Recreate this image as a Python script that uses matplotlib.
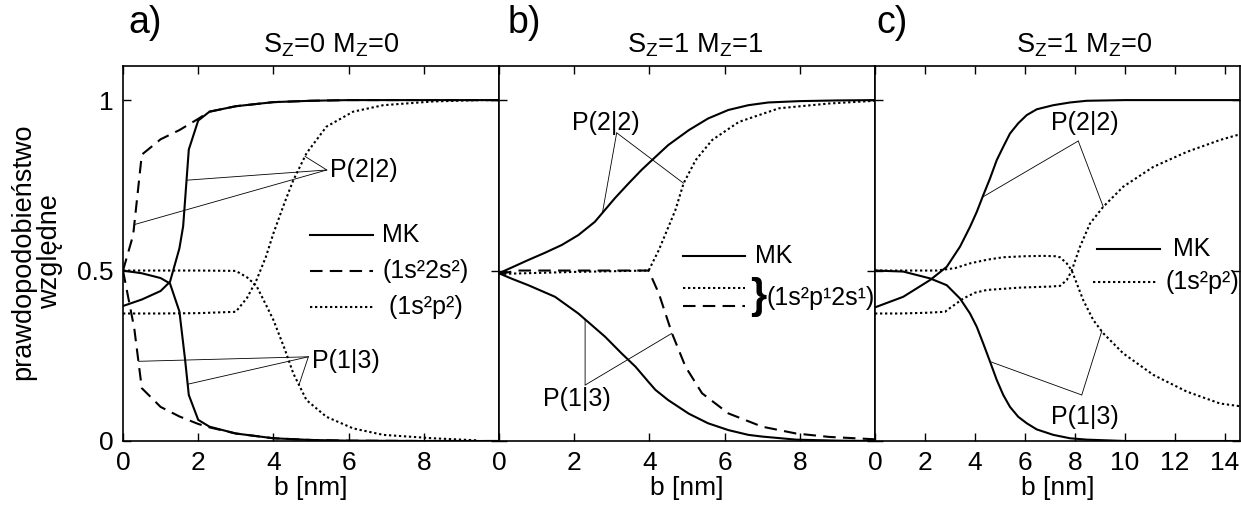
import numpy as np
import matplotlib
matplotlib.use('Agg')
import matplotlib.pyplot as plt

plt.rcParams['font.family'] = ['Liberation Sans', 'DejaVu Sans']
plt.rcParams['mathtext.fontset'] = 'custom'
plt.rcParams['mathtext.rm'] = 'Liberation Sans'

# ---- panel a) Sz=0 Mz=0 ----
a_mk_up_x = [0, 0.5, 1.0, 1.25, 1.5, 1.6, 1.75, 2.0, 2.3, 3.0, 4.0, 5.0, 6.0, 8.0, 10.0]
a_mk_up_y = [0.396, 0.415, 0.44, 0.467, 0.565, 0.63, 0.855, 0.94, 0.966, 0.982, 0.994, 0.998, 1.0, 1.0, 1.0]
a_mk_lo_x = [0, 0.5, 1.0, 1.25, 1.5, 1.65, 1.75, 2.0, 2.3, 3.0, 4.0, 5.0, 6.0, 8.0, 10.0]
a_mk_lo_y = [0.5, 0.492, 0.478, 0.462, 0.38, 0.24, 0.135, 0.062, 0.042, 0.022, 0.008, 0.003, 0.001, 0.0, 0.0]
a_ss_up_x = [0, 0.27, 0.5, 1.0, 1.5, 2.0, 2.3, 3.0, 4.0, 5.0, 6.0, 8.0, 10.0]
a_ss_up_y = [0.5, 0.604, 0.84, 0.885, 0.912, 0.945, 0.966, 0.982, 0.994, 0.998, 1.0, 1.0, 1.0]
a_ss_lo_x = [0, 0.3, 0.5, 1.0, 1.5, 2.0, 2.3, 3.0, 4.0, 5.0, 6.0, 8.0, 10.0]
a_ss_lo_y = [0.5, 0.33, 0.155, 0.1, 0.072, 0.05, 0.04, 0.022, 0.008, 0.003, 0.001, 0.0, 0.0]
a_pp_up_x = [0, 1, 2, 3.0, 3.3, 3.55, 3.8, 4.0, 4.3, 4.53, 4.88, 5.41, 6.12, 6.92, 8.25, 9.5, 10]
a_pp_up_y = [0.374, 0.374, 0.375, 0.379, 0.42, 0.472, 0.54, 0.609, 0.7, 0.765, 0.844, 0.922, 0.966, 0.985, 0.996, 1.0, 1.0]
a_pp_lo_x = [0, 1, 2, 3.0, 3.3, 3.55, 3.8, 4.0, 4.3, 4.53, 4.88, 5.41, 6.12, 6.92, 8.25, 9.4]
a_pp_lo_y = [0.5, 0.5, 0.5, 0.499, 0.48, 0.455, 0.4, 0.355, 0.27, 0.198, 0.12, 0.071, 0.037, 0.018, 0.008, 0.002]

# ---- panel b) Sz=1 Mz=1 ----
b_mk_up_x = [0, 0.34, 0.78, 1.22, 1.67, 2.11, 2.55, 3.08, 3.45, 3.79, 4.07, 4.5, 5.05, 5.56, 6.1, 6.63, 7.16, 8.0, 9.0, 10]
b_mk_up_y = [0.492, 0.509, 0.531, 0.552, 0.575, 0.604, 0.643, 0.712, 0.756, 0.795, 0.824, 0.868, 0.912, 0.946, 0.971, 0.985, 0.993, 0.997, 0.999, 1.0]
b_mk_lo_x = [0, 0.34, 0.78, 1.49, 2.11, 2.82, 3.26, 3.63, 3.97, 4.16, 4.5, 5.05, 5.56, 6.1, 6.63, 7.0, 7.9, 9, 10]
b_mk_lo_y = [0.492, 0.476, 0.457, 0.423, 0.374, 0.306, 0.257, 0.218, 0.174, 0.15, 0.12, 0.08, 0.052, 0.032, 0.018, 0.013, 0.004, 0.001, 0.0]
b_dot_x = [0, 1, 2, 3, 3.98, 4.25, 4.69, 4.91, 5.23, 5.67, 6.38, 7.45, 8.78, 10]
b_dot_y = [0.49, 0.493, 0.496, 0.498, 0.5, 0.56, 0.677, 0.756, 0.824, 0.883, 0.936, 0.976, 0.99, 0.998]
b_dash_x = [0, 0.5, 1, 2, 3, 3.98, 4.25, 4.6, 4.96, 5.4, 6.1, 7.0, 7.9, 8.78, 10]
b_dash_y = [0.49, 0.5, 0.5, 0.5, 0.5, 0.5, 0.433, 0.316, 0.218, 0.14, 0.081, 0.042, 0.022, 0.012, 0.005]

# ---- panel c) Sz=1 Mz=0 ----
c_mk_x = [0, 1.13, 2.2, 2.87, 3.4, 3.8, 4.07, 4.33, 4.6, 4.87, 5.13, 5.4, 5.73, 6.07, 6.47, 7.13, 7.8, 8.47, 10, 12, 14.6]
c_mk_up_y = [0.392, 0.423, 0.472, 0.511, 0.57, 0.628, 0.672, 0.721, 0.77, 0.824, 0.863, 0.902, 0.932, 0.956, 0.973, 0.985, 0.993, 0.998, 1.0, 1.0, 1.0]
c_mk_lo_y = [0.5, 0.497, 0.477, 0.457, 0.418, 0.374, 0.335, 0.286, 0.233, 0.179, 0.135, 0.1, 0.071, 0.052, 0.034, 0.018, 0.008, 0.004, 0.0, 0.0, 0.0]
c_pp1_x = [0, 1, 2.47, 3.2, 3.8, 4.5, 5.13, 6.0, 6.73, 7.2, 7.4, 7.67, 7.87, 8.33, 8.73, 9.13, 9.93, 11.13, 12.47, 13.8, 14.6]
c_pp1_y = [0.5, 0.5, 0.5, 0.507, 0.521, 0.532, 0.539, 0.542, 0.543, 0.542, 0.539, 0.521, 0.5, 0.413, 0.355, 0.316, 0.257, 0.194, 0.145, 0.11, 0.102]
c_pp2_x = [0, 1, 2, 2.8, 3.0, 3.53, 4.0, 4.47, 5.8, 7.0, 7.4, 7.67, 7.87, 8.2, 8.6, 9.13, 9.93, 11.13, 12.47, 13.8, 14.47, 14.6]
c_pp2_y = [0.374, 0.374, 0.376, 0.379, 0.39, 0.418, 0.435, 0.443, 0.45, 0.453, 0.455, 0.472, 0.5, 0.57, 0.638, 0.687, 0.746, 0.804, 0.848, 0.883, 0.897, 0.898]

titles = [r'S$_\mathregular{Z}$=0 M$_\mathregular{Z}$=0',
          r'S$_\mathregular{Z}$=1 M$_\mathregular{Z}$=1',
          r'S$_\mathregular{Z}$=1 M$_\mathregular{Z}$=0']
letters = ['a)', 'b)', 'c)']

SOLID = '-'
DASH = (0, (6, 3.5))
DOT = (0, (1.1, 1.3))
LW = 1.5
FS = 18      # text inside the panels
FS_TICK = 19
FS_LAB = 19.5

fig = plt.figure(figsize=(12.41, 5.08), dpi=100)
W, H = 1241, 508
bot, top = 441, 66
ax_a = fig.add_axes([123 / W, (H - bot) / H, 376 / W, (bot - top) / H])
ax_b = fig.add_axes([499 / W, (H - bot) / H, 376 / W, (bot - top) / H])
ax_c = fig.add_axes([875 / W, (H - bot) / H, 365 / W, (bot - top) / H])
axes = [ax_a, ax_b, ax_c]

# curves
ax_a.plot(a_mk_up_x, a_mk_up_y, 'k', ls=SOLID, lw=LW)
ax_a.plot(a_mk_lo_x, a_mk_lo_y, 'k', ls=SOLID, lw=LW)
ax_a.plot(a_ss_up_x, a_ss_up_y, 'k', ls=DASH, lw=LW)
ax_a.plot(a_ss_lo_x, a_ss_lo_y, 'k', ls=DASH, lw=LW)
ax_a.plot(a_pp_up_x, a_pp_up_y, 'k', ls=DOT, lw=LW)
ax_a.plot(a_pp_lo_x, a_pp_lo_y, 'k', ls=DOT, lw=LW)

ax_b.plot(b_mk_up_x, b_mk_up_y, 'k', ls=SOLID, lw=LW)
ax_b.plot(b_mk_lo_x, b_mk_lo_y, 'k', ls=SOLID, lw=LW)
ax_b.plot(b_dot_x, b_dot_y, 'k', ls=DOT, lw=LW)
ax_b.plot(b_dash_x, b_dash_y, 'k', ls=DASH, lw=LW)

ax_c.plot(c_mk_x, c_mk_up_y, 'k', ls=SOLID, lw=LW)
ax_c.plot(c_mk_x, c_mk_lo_y, 'k', ls=SOLID, lw=LW)
ax_c.plot(c_pp1_x, c_pp1_y, 'k', ls=DOT, lw=LW)
ax_c.plot(c_pp2_x, c_pp2_y, 'k', ls=DOT, lw=LW)


def leader(ax, label, text_xy, ha, vertex, targets):
    # thin lines from one vertex to points on the curves
    ax.text(text_xy[0], text_xy[1], label, ha=ha, va='center', fontsize=FS)
    for cx, cy, tx in targets:
        ax.annotate('', xy=(tx, np.interp(tx, cx, cy)), xytext=vertex,
                    arrowprops=dict(arrowstyle='-', lw=0.6, color='k',
                                    shrinkA=0, shrinkB=0))


leader(ax_a, 'P(2|2)', (5.5, 0.795), 'left', (5.42, 0.795),
       [(a_pp_up_x, a_pp_up_y, 4.84), (a_mk_up_x, a_mk_up_y, 1.69),
        (a_ss_up_x, a_ss_up_y, 0.3)])
leader(ax_a, 'P(1|3)', (5.02, 0.235), 'left', (4.93, 0.247),
       [(a_ss_lo_x, a_ss_lo_y, 0.41), (a_mk_lo_x, a_mk_lo_y, 1.72),
        (a_pp_lo_x, a_pp_lo_y, 4.68)])
leader(ax_b, 'P(2|2)', (2.85, 0.932), 'center', (3.13, 0.904),
       [(b_mk_up_x, b_mk_up_y, 2.75), (b_dot_x, b_dot_y, 4.91)])
leader(ax_b, 'P(1|3)', (2.06, 0.123), 'center', (2.29, 0.164),
       [(b_mk_lo_x, b_mk_lo_y, 2.29), (b_dash_x, b_dash_y, 4.6)])
leader(ax_c, 'P(2|2)', (8.4, 0.932), 'center', (8.13, 0.88),
       [(c_mk_x, c_mk_up_y, 4.3), (c_pp2_x, c_pp2_y, 9.13)])
leader(ax_c, 'P(1|3)', (8.4, 0.071), 'center', (8.27, 0.135),
       [(c_mk_x, c_mk_lo_y, 4.6), (c_pp1_x, c_pp1_y, 9.07)])


def key(ax, x0, x1, y, ls, label=None, tx=None):
    ax.plot([x0, x1], [y, y], 'k', ls=ls, lw=LW, transform=ax.transAxes)
    if label:
        ax.text(tx, y, label, transform=ax.transAxes, ha='left', va='center', fontsize=FS)


key(ax_a, 0.497, 0.665, 0.549, SOLID, 'MK', 0.69)
key(ax_a, 0.497, 0.665, 0.454, DASH, '(1s²2s²)', 0.69)
key(ax_a, 0.497, 0.665, 0.358, DOT, ' (1s²p²)', 0.69)

key(ax_b, 0.49, 0.655, 0.494, SOLID, 'MK', 0.681)
key(ax_b, 0.49, 0.655, 0.409, DOT)
key(ax_b, 0.49, 0.655, 0.36, DASH)
ax_b.text(0.689, 0.384, '}', transform=ax_b.transAxes, ha='center', va='center',
          fontsize=30, fontweight='bold')
ax_b.text(0.712, 0.38, '(1s²p¹2s¹)', transform=ax_b.transAxes, ha='left',
          va='center', fontsize=FS)

key(ax_c, 0.607, 0.781, 0.512, SOLID, 'MK', 0.816)
key(ax_c, 0.596, 0.776, 0.425, DOT, '(1s²p²)', 0.797)

# axes styling
xlims = [(0, 10), (0, 10), (0, 14.6)]
xticks = [[0, 2, 4, 6, 8], [0, 2, 4, 6, 8], [0, 2, 4, 6, 8, 10, 12, 14]]
title_x = [0.553, 0.521, 0.573]
letter_x = [0.013, 0.024, 0.005]
for i, ax in enumerate(axes):
    ax.set_xlim(*xlims[i])
    ax.set_ylim(0, 1.1)
    ax.set_xticks(xticks[i])
    ax.set_yticks([0, 0.5, 1])
    ax.set_yticklabels(['0', '0.5', '1'])
    ax.tick_params(direction='in', top=True, right=True, length=6, width=1.0,
                   labelsize=FS_TICK, pad=7)
    if i > 0:
        ax.tick_params(labelleft=False)
    for sp in ax.spines.values():
        sp.set_linewidth(1.2)
    ax.set_xlabel('b [nm]', fontsize=FS_TICK, labelpad=1)
    ax.text(title_x[i], 1.037, titles[i], transform=ax.transAxes, ha='center',
            va='baseline', fontsize=FS_LAB)
    ax.text(letter_x[i], 1.088, letters[i], transform=ax.transAxes, ha='left',
            va='baseline', fontsize=27)

fig.text(37 / W, 1 - 252 / H, 'prawdopodobieństwo\nwzględne', rotation=90,
         ha='center', va='center', multialignment='center', fontsize=FS_LAB,
         linespacing=1.05)

fig.savefig('out.png', dpi=100)
